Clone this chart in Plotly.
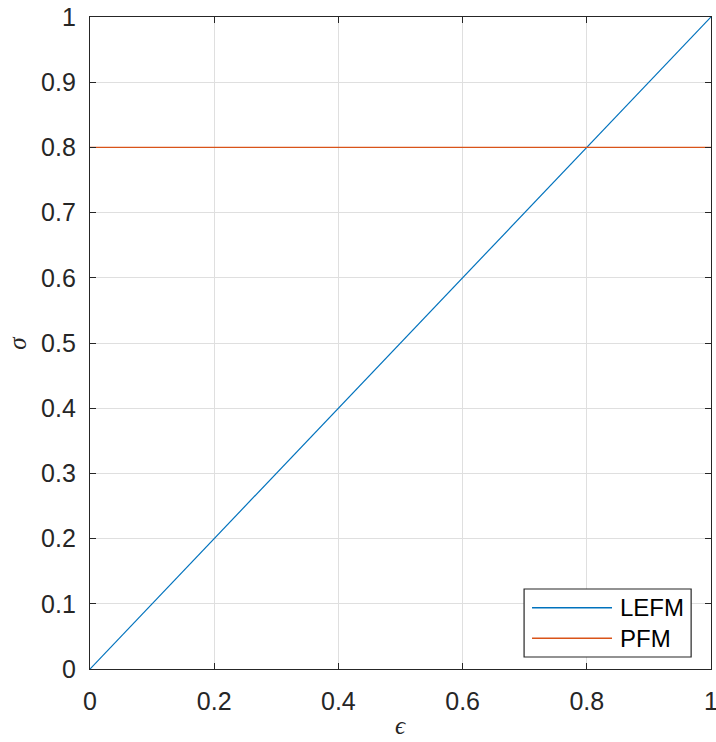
import plotly.graph_objects as go

# data
strain = [0.0, 1.0]
lefm_stress = [0.0, 1.0]
pfm_stress = [0.8, 0.8]
series_names = ["LEFM", "PFM"]
series_colors = ["#0072BD", "#D95319"]
tick_vals = [0, 0.1, 0.2, 0.3, 0.4, 0.5, 0.6, 0.7, 0.8, 0.9, 1]
tick_text = ["0", "0.1", "0.2", "0.3", "0.4", "0.5", "0.6", "0.7", "0.8", "0.9", "1"]
x_tick_vals = [0, 0.2, 0.4, 0.6, 0.8, 1]
x_tick_text = ["0", "0.2", "0.4", "0.6", "0.8", "1"]

AX = "#262626"
GRID = "#dfdfdf"
FONT = "Liberation Sans, Arial, sans-serif"
SERIF = "Liberation Serif, Times New Roman, serif"

fig = go.Figure()
for ys, name, col in zip([lefm_stress, pfm_stress], series_names, series_colors):
    fig.add_trace(go.Scatter(x=strain, y=ys, mode="lines", name=name,
                             line=dict(color=col, width=1.2), showlegend=False))

axis_common = dict(
    showline=True, linecolor=AX, linewidth=1.3, mirror="ticks",
    ticks="inside", ticklen=6, tickcolor=AX, tickwidth=1.3,
    showgrid=True, gridcolor=GRID, gridwidth=1,
    zeroline=False, tickfont=dict(family=FONT, size=25, color=AX),
    ticklabeloverflow="allow", automargin=False,
)

fig.update_xaxes(range=[0, 1], tickvals=x_tick_vals, ticktext=x_tick_text,
                 ticklabelstandoff=10, **axis_common)
fig.update_yaxes(range=[0, 1], tickvals=tick_vals, ticktext=tick_text,
                 ticklabelstandoff=8, **axis_common)

fig.add_annotation(text="<i>ϵ</i>", xref="paper", yref="paper", x=0.5, y=-0.087,
                   yanchor="middle", xanchor="center", showarrow=False,
                   font=dict(family=SERIF, size=25, color=AX))
fig.add_annotation(text="<i>σ</i>", xref="paper", yref="paper", x=-0.118, y=0.5,
                   textangle=-90, yanchor="middle", xanchor="center", showarrow=False,
                   font=dict(family=SERIF, size=25, color=AX))

# MATLAB-style legend box (drawn in paper coordinates)
fig.add_shape(type="rect", xref="paper", yref="paper", x0=0.699, x1=0.968,
              y0=0.0184, y1=0.1227, line=dict(color=AX, width=1.2), fillcolor="white",
              layer="above")
leg_y = [0.0940, 0.0471]
for yy, name, col in zip(leg_y, series_names, series_colors):
    fig.add_shape(type="line", xref="paper", yref="paper", x0=0.7118, x1=0.8406,
                  y0=yy, y1=yy, line=dict(color=col, width=1.5), layer="above")
    fig.add_annotation(text=name, xref="paper", yref="paper", x=0.850, y=yy,
                       xanchor="left", yanchor="middle", showarrow=False,
                       font=dict(family=FONT, size=24, color="black"))

fig.update_layout(
    width=716, height=742,
    margin=dict(l=90, r=5, t=17, b=73),
    plot_bgcolor="white", paper_bgcolor="white",
    showlegend=False,
)

fig.write_html("out.html")
